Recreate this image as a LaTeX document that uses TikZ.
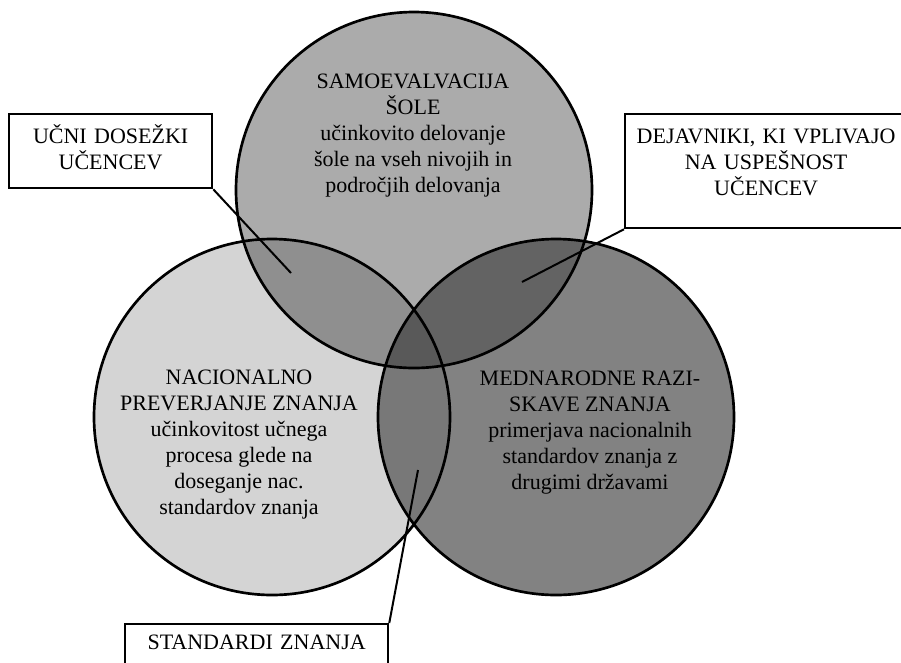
\documentclass[tikz,border=0pt]{standalone}
\usepackage{fontspec}
\setmainfont{Liberation Serif}
\usepackage{xcolor}
\usepackage{tikz}

\newcommand{\vr}{133.5pt}
\tikzset{
  ring/.style={line width=2pt},
  lead/.style={line width=1.5pt},
  textbox/.style={draw, line width=1.7pt, anchor=north west, align=center,
    inner xsep=0pt, inner ysep=4pt, text height=17.75pt, fill=white}
}

\begin{document}
\begin{tikzpicture}[x=0.75pt,y=-0.75pt,font=\fontsize{16.5}{19.5}\selectfont]
  \useasboundingbox (0,0) rectangle (901,662);
  \clip (0,0) rectangle (901,662);
  \coordinate (T) at (414,190);
  \coordinate (L) at (272,417);
  \coordinate (R) at (556,417);
  \foreach \c/\col in {T/black!33,L/black!17,R/black!49} {
    \fill[\col] (\c) circle[radius=\vr];
  }
  \begin{scope}
    \clip (T) circle[radius=\vr];
    \fill[black!44] (L) circle[radius=\vr];
    \fill[black!61] (R) circle[radius=\vr];
  \end{scope}
  \begin{scope}
    \clip (L) circle[radius=\vr];
    \fill[black!53] (R) circle[radius=\vr];
  \end{scope}
  \begin{scope}
    \clip (T) circle[radius=\vr];
    \clip (L) circle[radius=\vr];
    \fill[black!65] (R) circle[radius=\vr];
  \end{scope}
  \foreach \c in {T,L,R} {
    \draw[ring] (\c) circle[radius=\vr];
  }
  \node[align=center] (samo) at (413,136)
    {SAMOEVALVACIJA\\ŠOLE\\učinkovito delovanje\\šole na vseh nivojih in\\področjih delovanja};
  \node[align=center] (nac) at (239,445)
    {NACIONALNO\\PREVERJANJE ZNANJA\\učinkovitost učnega\\procesa glede na\\doseganje nac.\\standardov znanja};
  \node[align=center] (med) at (590,433)
    {MEDNARODNE RAZI-\\SKAVE ZNANJA\\primerjava nacionalnih\\standardov znanja z\\drugimi državami};
  \node[textbox, text width=152.25pt, text depth=29.75pt] (ucni) at (8,113)
    {UČNI DOSEŽKI\\UČENCEV};
  \node[textbox, text width=211.5pt, text depth=59.75pt] (dej) at (624,113)
    {DEJAVNIKI, KI VPLIVAJO\\NA USPEŠNOST\\UČENCEV};
  \node[textbox, text width=197.25pt, text depth=40pt, text height=15pt] (stand) at (124,623)
    {STANDARDI ZNANJA};
  \coordinate (pTL) at (291,273);
  \coordinate (pTR) at (522,282);
  \coordinate (pLR) at (418,470);
  \draw[lead] (ucni.south east) -- (pTL);
  \draw[lead] (dej.south west) -- (pTR);
  \draw[lead] (stand.north east) -- (pLR);
\end{tikzpicture}
\end{document}
